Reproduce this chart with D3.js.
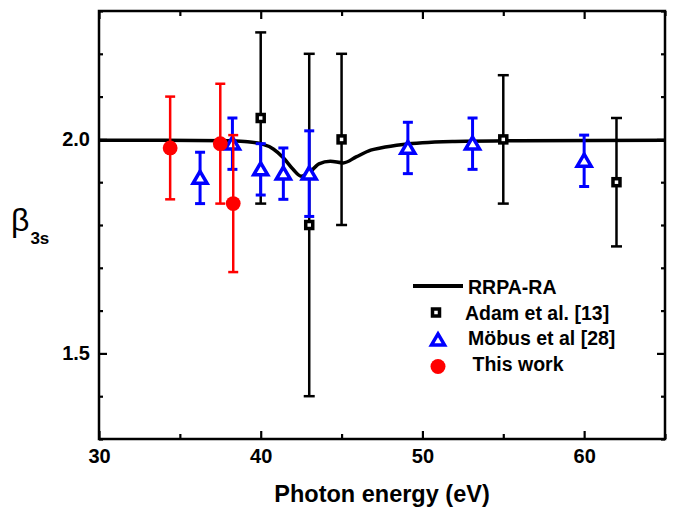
<!DOCTYPE html>
<html>
<head>
<meta charset="utf-8">
<script src="https://cdn.jsdelivr.net/npm/d3@7"></script>
<style>
  html, body { margin: 0; padding: 0; background: #fff; }
  svg { display: block; }
  text { font-family: "Liberation Sans", Arial, sans-serif; }
</style>
</head>
<body>
<svg id="chart" width="673" height="509"></svg>
<script>
// ---- data ----
const rrpaE = [30, 34, 38, 39, 40, 40.8, 41.4, 42.0, 42.5, 43.0, 43.6, 44.3, 45.1, 45.9, 46.8, 47.4, 48.8, 50, 52, 56, 65];
const rrpaB = [1.998, 1.998, 1.997, 1.995, 1.99, 1.977, 1.957, 1.93, 1.914, 1.922, 1.943, 1.949, 1.945, 1.959, 1.975, 1.98, 1.988, 1.992, 1.995, 1.997, 1.998];

const adamE = [40.0, 43.0, 45.0, 55.0, 62.0];
const adamB = [2.05, 1.80, 2.00, 2.00, 1.90];
const adamErr = [0.20, 0.40, 0.20, 0.15, 0.15];

const mobusE = [36.25, 38.25, 40.0, 41.4, 43.0, 49.1, 53.1, 60.0];
const mobusB = [1.91, 1.99, 1.93, 1.92, 1.92, 1.98, 1.99, 1.95];
const mobusErr = [0.06, 0.06, 0.06, 0.06, 0.10, 0.06, 0.06, 0.06];

const thisE = [34.4, 37.5, 38.3];
const thisB = [1.98, 1.99, 1.85];
const thisErr = [0.12, 0.14, 0.16];

const xMajor = [30, 40, 50, 60];
const xMinor = [35, 45, 55, 65];
const yMajor = [1.5, 2.0];
const yMinor = [1.3, 1.4, 1.6, 1.7, 1.8, 1.9, 2.1, 2.2, 2.3];

const legendLabels = ["RRPA-RA", "Adam et al. [13]", "Möbus et al [28]", "This work"];

// ---- layout ----
const L = 99, R = 665, T = 11, B = 439;
const x = d3.scaleLinear().domain([30, 65]).range([L, R]);
const y = d3.scaleLinear().domain([1.3, 2.3]).range([B, T]);

const svg = d3.select("#chart");
const BLUE = "#0000ff", RED = "#ff0000";

// axes (inward ticks, mirrored)
function hAxis(gen, ty, vals, size, labels) {
  const a = gen(x).tickValues(vals).tickSize(-size).tickPadding(10)
    .tickFormat(labels ? d3.format("d") : "");
  const g = svg.append("g").attr("transform", `translate(0,${ty})`).call(a);
  g.select(".domain").remove();
  g.selectAll("line").attr("stroke", "#000").attr("stroke-width", 2.2);
  g.selectAll("text").attr("font-size", 20).attr("font-weight", "bold").attr("fill", "#000");
}
function vAxis(gen, tx, vals, size, labels) {
  const a = gen(y).tickValues(vals).tickSize(-size).tickPadding(9)
    .tickFormat(labels ? d3.format(".1f") : "");
  const g = svg.append("g").attr("transform", `translate(${tx},0)`).call(a);
  g.select(".domain").remove();
  g.selectAll("line").attr("stroke", "#000").attr("stroke-width", 2.2);
  g.selectAll("text").attr("font-size", 20).attr("font-weight", "bold").attr("fill", "#000");
}
hAxis(d3.axisBottom, B, xMajor, 8, true);
hAxis(d3.axisBottom, B, xMinor, 5, false);
hAxis(d3.axisTop, T, xMajor, 8, false);
hAxis(d3.axisTop, T, xMinor, 5, false);
vAxis(d3.axisLeft, L, yMajor, 8, true);
vAxis(d3.axisLeft, L, yMinor, 4, false);
vAxis(d3.axisRight, R, yMajor, 8, false);
vAxis(d3.axisRight, R, yMinor, 4, false);

svg.append("rect").attr("x", L).attr("y", T).attr("width", R - L).attr("height", B - T)
  .attr("fill", "none").attr("stroke", "#000").attr("stroke-width", 2.5);

// axis titles
svg.append("text").attr("x", (L + R) / 2).attr("y", 502).attr("text-anchor", "middle")
  .attr("font-size", 23.5).attr("font-weight", "bold").text("Photon energy (eV)");
const yl = svg.append("text").attr("x", 11).attr("y", 231);
yl.append("tspan").attr("font-size", 32).text("β");
yl.append("tspan").attr("font-size", 17).attr("font-weight", "bold").attr("dy", 13).attr("dx", 1).text("3s");

// RRPA-RA curve
const line = d3.line().x(d => x(d[0])).y(d => y(d[1])).curve(d3.curveMonotoneX);
svg.append("path").datum(rrpaE.map((e, i) => [e, rrpaB[i]]))
  .attr("d", line).attr("fill", "none").attr("stroke", "#000").attr("stroke-width", 3.5);

// error bars helper
function errBars(E, Bv, Err, color, w, cap) {
  const g = svg.append("g").attr("stroke", color).attr("stroke-width", w);
  E.forEach((e, i) => {
    const cx = x(e), y1 = y(Bv[i] + Err[i]), y2 = y(Bv[i] - Err[i]);
    g.append("line").attr("x1", cx).attr("x2", cx).attr("y1", y1).attr("y2", y2);
    g.append("line").attr("x1", cx - cap).attr("x2", cx + cap).attr("y1", y1).attr("y2", y1);
    g.append("line").attr("x1", cx - cap).attr("x2", cx + cap).attr("y1", y2).attr("y2", y2);
  });
}
function triPath(cx, cy, hw, h) {
  return `M${cx},${cy - h * 0.55}L${cx + hw},${cy + h * 0.45}L${cx - hw},${cy + h * 0.45}Z`;
}

// Adam et al.
errBars(adamE, adamB, adamErr, "#000", 2.5, 5.5);
svg.append("g").selectAll("rect").data(adamE).join("rect")
  .attr("x", (d) => x(d) - 3.5).attr("y", (d, i) => y(adamB[i]) - 3.5)
  .attr("width", 7).attr("height", 7)
  .attr("fill", "#fff").attr("stroke", "#000").attr("stroke-width", 3.5);

// Möbus et al.
errBars(mobusE, mobusB, mobusErr, BLUE, 3, 5);
svg.append("g").selectAll("path").data(mobusE).join("path")
  .attr("d", (d, i) => triPath(x(d), y(mobusB[i]), 7, 12))
  .attr("fill", "#fff").attr("stroke", BLUE).attr("stroke-width", 3.5).attr("stroke-linejoin", "miter");

// This work
errBars(thisE, thisB, thisErr, RED, 2.5, 5);
svg.append("g").selectAll("circle").data(thisE).join("circle")
  .attr("cx", d => x(d)).attr("cy", (d, i) => y(thisB[i])).attr("r", 7.4)
  .attr("fill", RED);

// legend
const lg = svg.append("g");
lg.append("line").attr("x1", 413).attr("x2", 463).attr("y1", 286).attr("y2", 286)
  .attr("stroke", "#000").attr("stroke-width", 4);
lg.append("rect").attr("x", 432.5).attr("y", 309).attr("width", 7).attr("height", 7)
  .attr("fill", "#fff").attr("stroke", "#000").attr("stroke-width", 3.5);
lg.append("path").attr("d", triPath(438, 340, 6.5, 11))
  .attr("fill", "#fff").attr("stroke", BLUE).attr("stroke-width", 3.5);
lg.append("circle").attr("cx", 438).attr("cy", 366.5).attr("r", 7.5).attr("fill", RED);
const lx = [468, 465, 468, 472.5], ly = [293.5, 320, 345, 370.5];
legendLabels.forEach((t, i) => {
  lg.append("text").attr("x", lx[i]).attr("y", ly[i]).attr("font-size", 19.5)
    .attr("font-weight", "bold").text(t);
});
</script>
</body>
</html>
